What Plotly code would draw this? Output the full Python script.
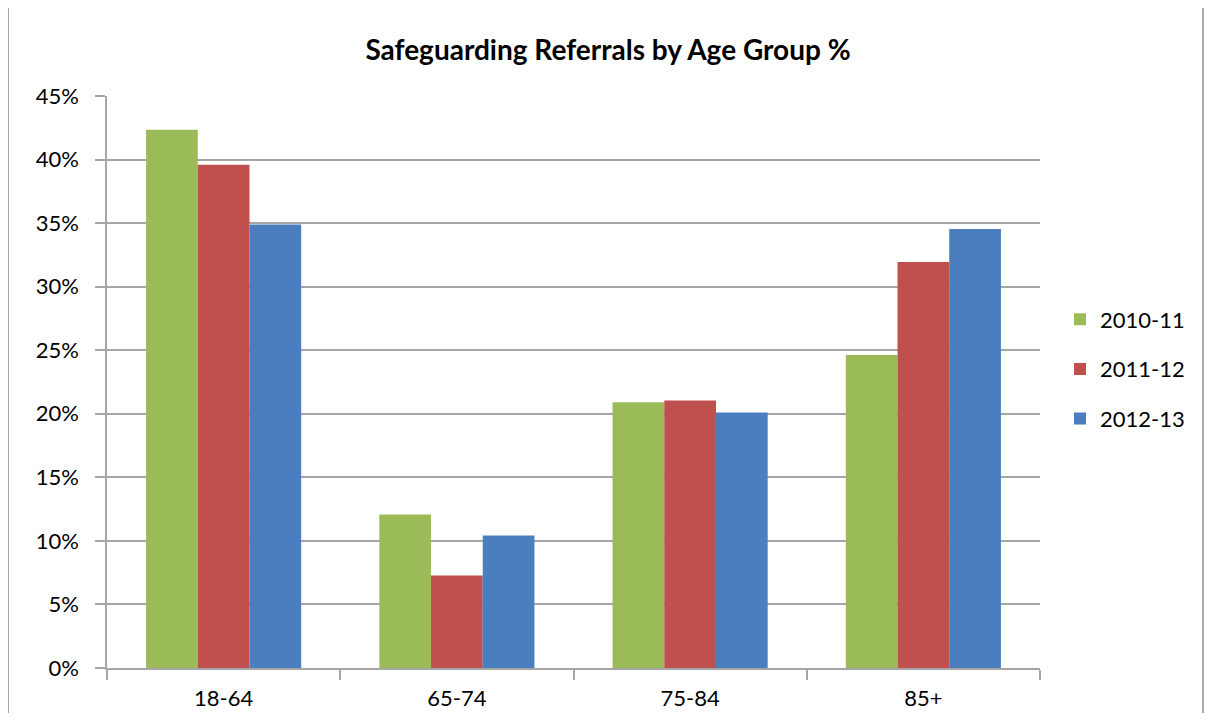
import plotly.graph_objects as go

categories = ["18-64", "65-74", "75-84", "85+"]
series_names = ["2010-11", "2011-12", "2012-13"]
values_2010_11 = [0.4234, 0.1207, 0.2090, 0.2463]
values_2011_12 = [0.3960, 0.0728, 0.2105, 0.3194]
values_2012_13 = [0.3490, 0.1042, 0.2010, 0.3453]
colors = ["#9BBB59", "#C0504D", "#4A7EBE"]
y_ticks = [0, 0.05, 0.10, 0.15, 0.20, 0.25, 0.30, 0.35, 0.40, 0.45]
y_tick_labels = ["0%", "5%", "10%", "15%", "20%", "25%", "30%", "35%", "40%", "45%"]

FONT = "Lato, 'Open Sans', sans-serif"

fig = go.Figure()
for name, vals, col in zip(series_names, [values_2010_11, values_2011_12, values_2012_13], colors):
    fig.add_trace(go.Bar(
        x=categories, y=vals, name=name, legendgroup=name,
        marker=dict(color=col, line=dict(width=0)),
    ))

# page body has an 8px offset on each side
OFF = 8
W, H = 1213 - 2 * OFF, 705
L, T = 107 - OFF, 96 - OFF
R = W - (1040 - OFF)
B = H - (668 - OFF)
pw = W - L - R
ph = H - T - B

legend_center_y = 369 - OFF

fig.update_layout(
    width=W, height=H,
    margin=dict(l=L, r=R, t=T, b=B, autoexpand=False),
    paper_bgcolor="white", plot_bgcolor="white",
    barmode="group", bargap=0.335, bargroupgap=0,
    title=dict(text="<b>Safeguarding Referrals by Age Group %</b>",
               x=(608 - OFF) / W, xref="container", xanchor="center",
               y=1 - (50 - OFF) / H, yref="container", yanchor="middle",
               font=dict(family=FONT, size=28, color="#000000")),
    font=dict(family=FONT, color="#000000"),
    legend=dict(x=(1060 - 1040) / pw + 1, xanchor="left",
                y=1 - (legend_center_y - T) / ph, yanchor="middle",
                yref="paper", font=dict(family=FONT, size=22, color="#000000"),
                tracegroupgap=18, itemsizing="constant", itemwidth=30,
                bgcolor="rgba(0,0,0,0)"),
    xaxis=dict(showgrid=False, showline=True, linecolor="#A6A6A6", linewidth=1.5,
               ticks="outside", ticklen=10, tickcolor="#A6A6A6", tickwidth=1.5,
               tickson="boundaries", ticklabelstandoff=10,
               tickfont=dict(family=FONT, size=22, color="#000000"),
               zeroline=False),
    yaxis=dict(range=[0, 0.45], tickvals=y_ticks, ticktext=y_tick_labels,
               showgrid=True, gridcolor="#A6A6A6", gridwidth=1.5,
               showline=True, linecolor="#A6A6A6", linewidth=1.5,
               ticks="outside", ticklen=10, tickcolor="#A6A6A6", tickwidth=1.5,
               ticklabelstandoff=12,
               tickfont=dict(family=FONT, size=22, color="#000000"),
               zeroline=False),
    shapes=[
        dict(type="line", xref="paper", yref="paper",
             x0=(8 - 107) / pw, x1=(8 - 107) / pw, y0=-B / ph, y1=1 + T / ph,
             line=dict(color="#8C8C8C", width=1.5)),
        dict(type="line", xref="paper", yref="paper",
             x0=(1203 - 107) / pw, x1=(1203 - 107) / pw, y0=-B / ph, y1=1 + T / ph,
             line=dict(color="#8C8C8C", width=1.5)),
    ],
)

fig.write_html("out.html")
